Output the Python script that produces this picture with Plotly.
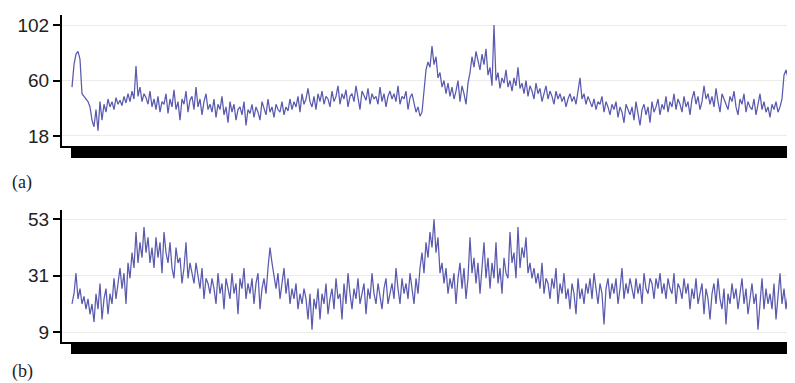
import plotly.graph_objects as go

# Panel (a) series
series_a = [
    55, 72, 80, 82, 76, 50, 48, 46, 44, 40,
    30, 25, 38, 22, 44, 30, 42, 36, 46, 40,
    44, 38, 47, 42, 45, 41, 48, 43, 50, 44,
    52, 46, 71, 48, 55, 44, 50, 47, 42, 52,
    40, 46, 38, 48, 36, 44, 42, 50, 35, 46,
    40, 53, 38, 44, 30, 46, 42, 52, 36, 45,
    48, 38, 55, 40, 46, 34, 44, 50, 38, 42,
    36, 46, 32, 42, 38, 48, 34, 40, 28, 44,
    36, 42, 30, 38, 40, 34, 44, 26, 38, 35,
    42, 32, 40, 36, 30, 44, 38, 34, 46, 36,
    40, 32, 42, 38, 36, 44, 34, 40, 37, 46,
    38, 44, 40, 48, 36, 50, 42, 46, 54, 44,
    40, 48, 38, 50, 44, 52, 42, 48, 46, 40,
    52, 44, 48, 56, 42, 50, 46, 53, 40, 48,
    50, 44, 56, 46, 38, 52, 48, 45, 54, 42,
    50, 46, 48, 42, 55, 44, 50, 40, 48, 52,
    46, 50, 44, 56, 42, 48, 46, 52, 38, 47,
    50, 44, 36, 40, 33, 36, 55, 68, 74, 70,
    86, 72, 78, 62, 66, 55, 60, 50, 58, 48,
    55, 46, 52, 60, 44, 56, 50, 42, 58, 66,
    78, 70, 82, 74, 68, 80, 72, 84, 64, 70,
    56, 102, 60, 66, 54, 62, 58, 68, 55, 60,
    52, 62, 56, 70, 54, 58, 50, 60, 48, 56,
    52, 46, 58, 50, 54, 44, 50, 56, 46, 52,
    48, 42, 52, 46, 50, 44, 48, 40, 46, 50,
    44, 48, 42, 54, 62, 46, 50, 42, 48, 44,
    40, 46, 38, 44, 42, 48, 36, 44, 40, 34,
    42, 38, 44, 32, 40, 36, 28, 42, 38, 34,
    40, 30, 44, 36, 26, 38, 42, 34, 40, 28,
    44, 36, 40, 46, 34, 42, 38, 48, 36, 44,
    40, 50, 38, 46, 42, 36, 48, 40, 44, 34,
    46, 52, 42, 48, 38, 44, 56, 46, 50, 42,
    48, 40, 54, 44, 36, 50, 46, 42, 38, 48,
    44, 52, 40, 34, 46, 42, 50, 36, 44, 40,
    38, 46, 34, 42, 50, 38, 44, 36, 40, 32,
    42, 38, 44, 36, 40, 46, 64, 68, 62, 50,
]

# Panel (b) series
series_b = [
    20, 24, 32, 22, 26, 20, 23, 18, 22, 16,
    20, 13, 24, 18, 28, 14, 22, 26, 16, 24,
    20, 30, 22, 28, 34, 26, 32, 20, 36, 30,
    40, 34, 48, 36, 44, 38, 50, 40, 46, 36,
    42, 34, 46, 38, 44, 32, 48, 40, 36, 44,
    34, 30, 42, 36, 38, 28, 34, 44, 30, 36,
    32, 28, 36, 30, 26, 34, 22, 30, 28, 24,
    30, 26, 20, 32, 24, 28, 18, 30, 26, 22,
    32, 24, 28, 16, 30, 26, 34, 22, 28, 24,
    30, 20, 28, 32, 18, 26, 30, 24, 34, 42,
    36, 30, 26, 32, 22, 28, 34, 24, 30, 20,
    26, 22, 28, 18, 24, 20, 26, 22, 14, 24,
    10, 22, 18, 26, 14, 24, 20, 28, 16, 22,
    26, 18, 30, 22, 24, 14, 28, 20, 32, 24,
    18, 26, 22, 30, 20, 24, 28, 16, 26, 22,
    32, 24, 20, 28, 22, 18, 26, 30, 20, 24,
    28, 22, 34, 26, 20, 30, 24, 28, 22, 32,
    26, 20, 30, 24, 34, 40, 32, 44, 38, 48,
    42, 53, 40, 46, 32, 36, 28, 34, 24, 30,
    26, 32, 20, 30, 36, 26, 34, 22, 30, 46,
    32, 38, 28, 36, 24, 34, 44, 30, 38, 26,
    36, 30, 44, 28, 34, 24, 38, 32, 30, 48,
    36, 40, 30, 50, 34, 42, 38, 46, 32, 36,
    30, 34, 28, 32, 26, 36, 24, 30, 28, 22,
    30, 26, 34, 20, 28, 24, 32, 22, 26, 18,
    28, 24, 16, 30, 22, 26, 20, 28, 24, 30,
    22, 32, 26, 20, 28, 24, 12, 26, 30, 22,
    28, 24, 30, 20, 26, 34, 22, 28, 24, 30,
    26, 22, 30, 24, 28, 20, 32, 26, 24, 30,
    28, 22, 30, 26, 32, 24, 28, 22, 30, 26,
    24, 32, 20, 28, 26, 22, 30, 24, 28, 18,
    26, 22, 30, 20, 24, 28, 16, 26, 22, 14,
    24, 28, 20, 30, 22, 18, 26, 12, 24, 20,
    28, 22, 26, 18, 24, 30, 20, 26, 16, 22,
    28, 20, 24, 10, 22, 30, 18, 26, 20, 24,
    18, 28, 14, 22, 32, 20, 26, 18, 24, 40,
]

ticks_a = [18, 60, 102]
ticks_b = [9, 31, 53]
panel_labels = ["(a)", "(b)"]

n = len(series_a)
idx = list(range(n))

# page body has an 8px default margin; compensate so the plot lands at target pixels
OFF = 8
W, H = 795 - OFF, 383 - OFF
ML, MR, MT, MB = 62 - OFF, 0, 15 - OFF, 383 - 342
plot_w = W - ML - MR
plot_h = H - MT - MB
ppi = 718 / (n - 1)
xrange_ = [-10 / ppi, (n - 1) + 5 / ppi]

line_color = "#5a5aae"

fig = go.Figure()
fig.add_trace(go.Scatter(x=idx, y=series_a, mode="lines",
                         line=dict(color=line_color, width=1.25),
                         xaxis="x", yaxis="y", showlegend=False))
fig.add_trace(go.Scatter(x=idx, y=series_b, mode="lines",
                         line=dict(color=line_color, width=1.25),
                         xaxis="x2", yaxis="y2", showlegend=False))

dom_a = [(342 - 146) / plot_h, 1.0]
dom_b = [0.0, (342 - 210) / plot_h]

xcommon = dict(range=xrange_, showline=True, linecolor="black", linewidth=2,
               ticks="outside", tickvals=idx, ticklen=10, tickwidth=2,
               tickcolor="black", showticklabels=False, showgrid=False,
               zeroline=False)
ycommon = dict(showline=True, linecolor="black", linewidth=2,
               ticks="outside", ticklen=7, tickwidth=2, tickcolor="black",
               showgrid=True, gridcolor="#ebebeb", gridwidth=1, zeroline=False,
               tickfont=dict(family="Liberation Sans, Arial", size=19, color="#222"))

fig.update_layout(
    width=W, height=H,
    margin=dict(l=ML, r=MR, t=MT, b=MB, autoexpand=False),
    paper_bgcolor="white", plot_bgcolor="white",
    xaxis=dict(domain=[0, 1], anchor="y", **xcommon),
    yaxis=dict(domain=dom_a, anchor="x", range=[10.4, 109.6], tickvals=ticks_a, **ycommon),
    xaxis2=dict(domain=[0, 1], anchor="y2", **xcommon),
    yaxis2=dict(domain=dom_b, anchor="x2", range=[5.2, 56.6], tickvals=ticks_b, **ycommon),
)

label_y = [(342 - 182) / plot_h, (342 - 372) / plot_h]
for lab, ly in zip(panel_labels, label_y):
    fig.add_annotation(text=lab, xref="paper", yref="paper",
                       x=(10 - 62) / plot_w, y=ly, xanchor="left", yanchor="middle",
                       showarrow=False,
                       font=dict(family="Liberation Serif, Times New Roman", size=18, color="#222"))

fig.write_html("out.html")
